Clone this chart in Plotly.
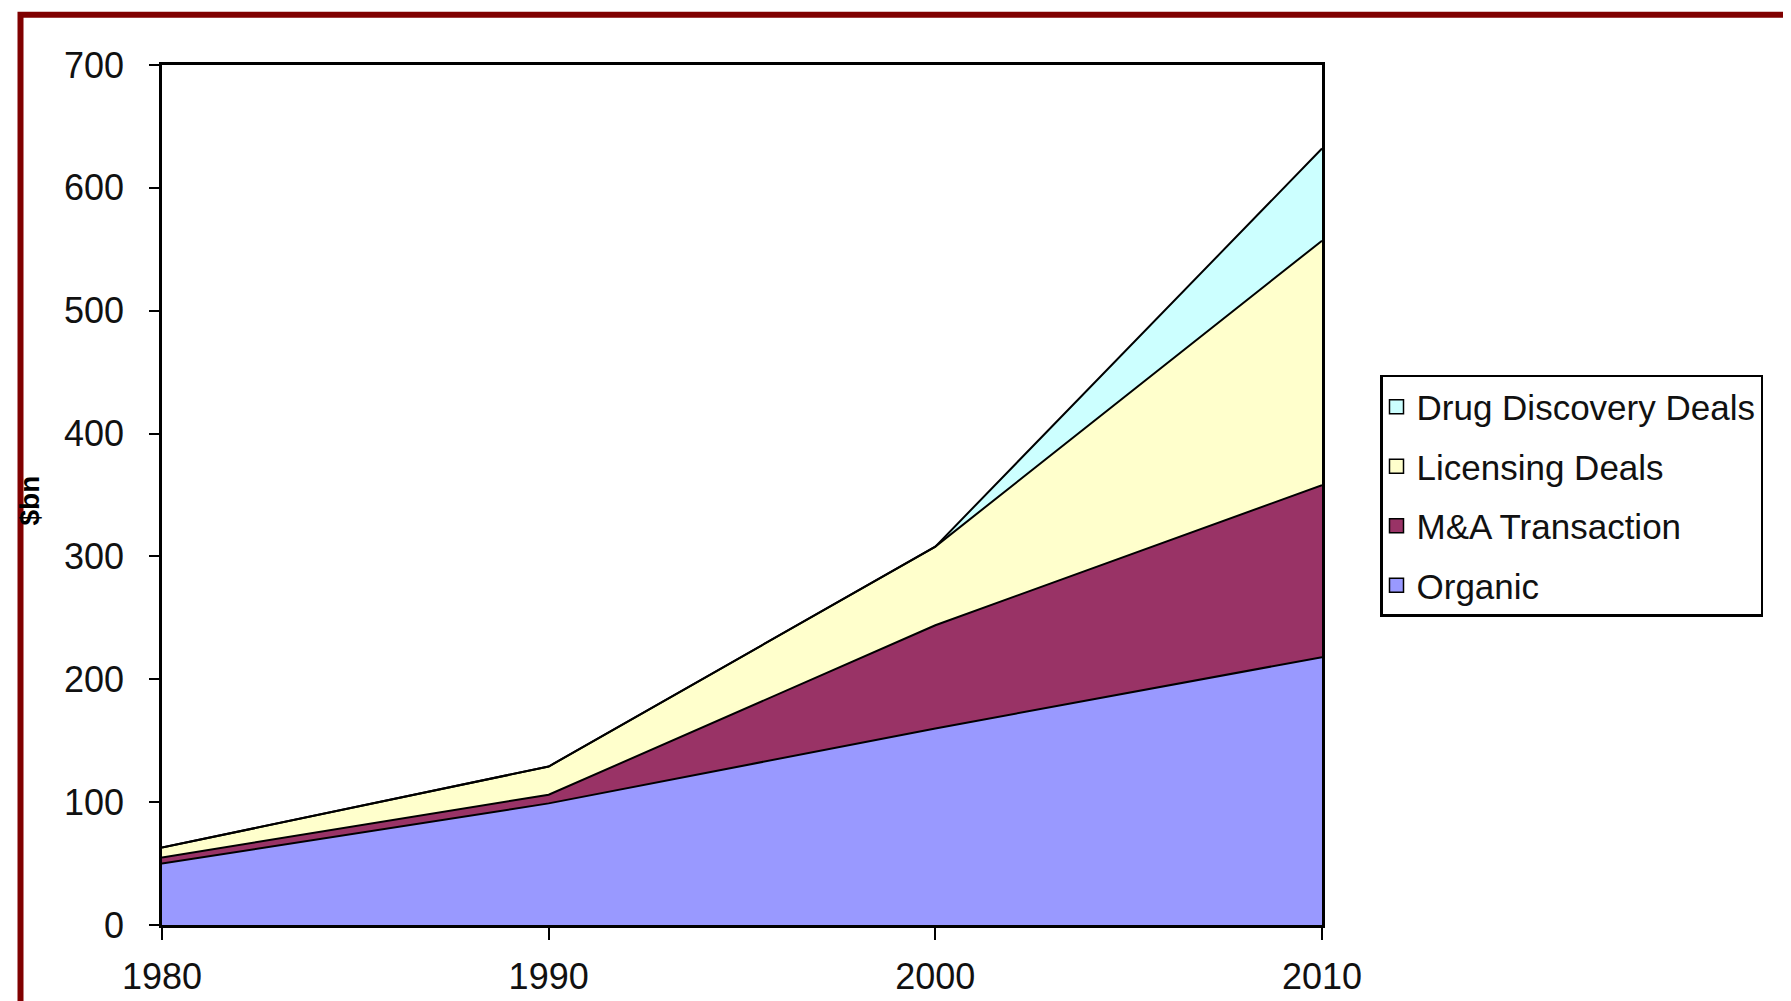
import plotly.graph_objects as go

# ---- data ----
years = [1980, 1990, 2000, 2010]
organic = [50, 99, 160, 218]
mna = [5, 7, 84, 140]
licensing = [8, 23, 64, 199]
drug_discovery = [0, 0, 0, 75]

series_names = ["Organic", "M&A Transaction", "Licensing Deals", "Drug Discovery Deals"]
series_values = [organic, mna, licensing, drug_discovery]
series_colors = ["#9999FF", "#993366", "#FFFFCC", "#CCFFFF"]

x_ticks = [1980, 1990, 2000, 2010]
y_ticks = [0, 100, 200, 300, 400, 500, 600, 700]

W, H = 1791, 1001
L, R, T, B = 154, 1314, 57, 920  # plot area in pixels

FONT = "Liberation Sans, Arial, sans-serif"

fig = go.Figure()

for name, vals, col in zip(series_names, series_values, series_colors):
    fig.add_trace(go.Scatter(
        x=years, y=vals, name=name, stackgroup="one", mode="lines",
        line=dict(color="black", width=2), fillcolor=col,
        showlegend=False, hoverinfo="x+y+name",
    ))

# legend entries (square swatches), top to bottom: Drug Discovery ... Organic
legend_order = list(zip(series_names, series_colors))[::-1]
for i, (name, col) in enumerate(legend_order):
    fig.add_trace(go.Scatter(
        x=[None], y=[None], name=name, mode="markers",
        marker=dict(symbol="square", size=14, color=col,
                    line=dict(color="black", width=1.5)),
        legendgroup=f"g{i}", showlegend=True,
    ))

def px_x(p):
    return (p - L) / (R - L)

def px_y(p):
    return (B - p) / (B - T)

fig.update_layout(
    width=W, height=H,
    margin=dict(l=L, r=W - R, t=T, b=H - B, pad=0),
    paper_bgcolor="white", plot_bgcolor="white",
    font=dict(family=FONT, color="#111111"),
    xaxis=dict(
        range=[1980, 2010], tickvals=x_ticks, ticktext=[str(v) for v in x_ticks],
        showline=True, linecolor="black", linewidth=2.5, mirror=True,
        ticks="outside", ticklen=12, tickwidth=2, tickcolor="black",
        showgrid=False, zeroline=False,
        tickfont=dict(size=36, family=FONT, color="#111111"),
        ticklabelstandoff=6,
    ),
    yaxis=dict(
        range=[0, 700], tickvals=y_ticks,
        showline=True, linecolor="black", linewidth=2.5, mirror=True,
        ticks="outside", ticklen=10, tickwidth=2, tickcolor="black",
        showgrid=False, zeroline=False,
        tickfont=dict(size=36, family=FONT, color="#111111"),
        ticklabelstandoff=18,
    ),
    legend=dict(
        x=px_x(1372), y=px_y(368), xanchor="left", yanchor="top",
        bordercolor="black", borderwidth=2.5, bgcolor="white",
        font=dict(size=35, family=FONT, color="#111111"),
        traceorder="grouped", tracegroupgap=11,
        itemwidth=30, indentation=-6,
    ),
    showlegend=True,
    annotations=[dict(
        text="<b>$bn</b>", xref="paper", yref="paper",
        x=px_x(21), y=px_y(494), xanchor="center", yanchor="middle",
        textangle=-90, showarrow=False,
        font=dict(size=28, family=FONT, color="black"),
    )],
    shapes=[
        dict(type="rect", xref="paper", yref="paper",
             x0=px_x(12.5), x1=px_x(1786), y0=px_y(1030), y1=px_y(6.5),
             line=dict(color="#800000", width=6), fillcolor="rgba(0,0,0,0)",
             layer="above"),
        dict(type="line", xref="paper", yref="paper",
             x0=px_x(1781.5), x1=px_x(1781.5), y0=px_y(1010), y1=px_y(10),
             line=dict(color="black", width=3), layer="above"),
    ],
)

fig.write_html("out.html")
